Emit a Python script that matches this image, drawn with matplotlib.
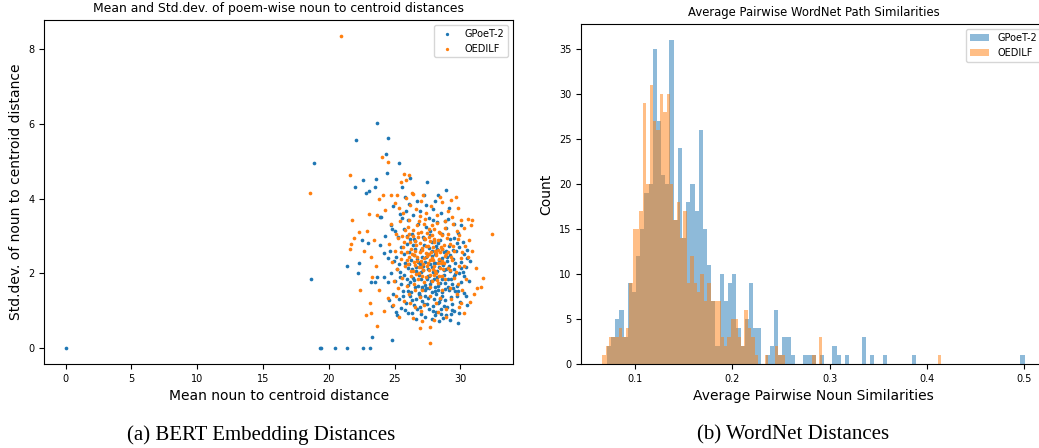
import numpy as np
import matplotlib
matplotlib.use("Agg")
import matplotlib.pyplot as plt

# --- (a) per-poem mean / std.dev. of noun-to-centroid distances ---
gpoet_mean = [
    0.0, 19.3, 19.4, 20.5, 21.4, 22.6, 23.15, 23.25, 24.82, 18.68,
    18.85, 22.04, 23.68, 24.49, 24.37, 25.3, 24.4, 22.6, 23.6, 21.36,
    22.2, 22.3, 21.97, 22.85, 23.05, 23.5, 22.5, 23.0, 23.2, 23.55,
    23.65, 27.47, 28.3, 28.9, 29.8, 30.4, 30.5, 24.0, 23.9, 24.6,
    24.8, 25.1, 25.2, 26.0, 26.6, 27.3, 28.4, 28.9, 29.3, 28.1,
    25.6, 25.8, 26.2, 24.3, 24.2, 24.5, 24.9, 25.4, 23.9, 24.7,
    26.1, 26.73, 27.2, 27.94, 28.5, 29.12, 26.38, 27.61, 25.87, 28.83,
    29.52, 26.91, 27.42, 25.53, 28.07,
    25.0, 25.72, 26.33, 26.81, 27.14, 27.69, 28.22, 28.61, 29.24, 29.83,
    30.21, 25.28, 26.04, 27.37, 28.02, 28.92, 29.48, 26.57, 24.83, 27.91,
    30.04, 26.19, 28.43, 25.93, 29.03,
    24.62, 25.11, 25.52, 25.79, 26.12, 26.41, 26.68, 27.03, 27.31, 27.58,
    27.87, 28.19, 28.52, 28.78, 29.13, 29.41, 29.68, 30.02, 30.31, 30.73,
    25.34, 25.98, 26.94, 27.52, 28.04, 28.27, 28.71, 29.18, 29.88, 26.47,
    27.23, 27.81, 28.63, 29.57, 24.93, 30.52, 27.09, 28.11, 26.28, 29.02,
    24.71, 25.03, 25.19, 25.48, 25.71, 26.02, 26.17, 26.43, 26.62, 26.79,
    27.01, 27.18, 27.29, 27.53, 27.62, 27.77, 27.93, 28.08, 28.21, 28.38,
    28.49, 28.72, 28.81, 29.04, 29.21, 29.33, 29.49, 29.71, 29.92, 30.08,
    30.29, 30.62, 27.39, 27.71, 28.01, 28.33, 26.88, 26.52, 25.91, 25.38,
    28.93, 29.42, 30.03, 24.51, 24.18, 27.12, 28.58, 26.31, 27.83, 29.63,
    24.88, 25.31, 25.62, 25.88, 26.21, 26.49, 26.82, 27.08, 27.33, 27.57,
    27.91, 28.13, 28.41, 28.57, 28.87, 29.11, 29.39, 29.72, 30.01, 30.28,
    26.03, 26.97, 27.98, 29.02, 27.48, 28.29, 26.61, 29.61, 25.47, 28.79,
    27.81, 30.47, 26.92, 29.28, 27.21,
    25.82, 26.29, 27.01, 27.63, 28.18, 28.52, 28.68, 29.49, 29.91, 27.88,
    26.72, 29.19,
    26.13, 26.47, 26.78, 27.02, 27.38, 27.61, 27.97, 28.23, 28.58, 28.83,
    29.16, 29.43, 26.27, 26.52, 26.88, 27.13, 27.46, 27.73, 28.09, 28.36,
    28.62, 28.98, 29.27, 29.53, 29.81, 27.22, 27.88, 28.42, 26.36, 29.04,
    27.57, 28.14, 28.77, 27.06, 26.63, 25.74, 25.43, 30.17, 30.42, 29.72,
    25.66, 26.04, 27.33, 28.27, 29.37, 27.94, 28.53, 26.44, 27.68, 28.93,
]
gpoet_std = [
    0.0, 0.0, 0.0, 0.0, 0.0, 0.0, 0.0, 0.31, 0.22, 1.86,
    4.95, 5.57, 6.01, 5.62, 5.2, 4.95, 4.67, 4.5, 4.52, 2.2,
    2.02, 2.28, 4.3, 4.15, 4.2, 4.32, 2.88, 2.8, 1.77, 1.78,
    1.9, 4.45, 4.1, 4.22, 0.68, 1.4, 2.4, 3.5, 2.75, 1.3,
    1.12, 0.98, 0.88, 0.95, 0.78, 0.85, 0.72, 0.9, 0.92, 0.88,
    4.32, 4.05, 4.55, 3.0, 2.55, 2.4, 3.8, 3.6, 3.5, 3.3,
    3.86, 3.94, 4.09, 3.71, 3.62, 3.74, 3.56, 3.49, 3.68, 3.41,
    3.31, 3.66, 3.84, 3.47, 3.93,
    3.12, 3.19, 3.06, 3.31, 2.96, 3.14, 3.36, 3.04, 2.91, 3.09,
    2.84, 2.97, 3.42, 3.24, 2.86, 3.21, 2.94, 2.87, 3.18, 3.44,
    3.29, 2.92, 2.89, 3.01, 3.46,
    2.61, 2.44, 2.71, 2.29, 2.56, 2.76, 2.38, 2.62, 2.31, 2.69,
    2.46, 2.64, 2.36, 2.57, 2.74, 2.39, 2.59, 2.31, 2.52, 2.34,
    2.24, 2.79, 2.26, 2.51, 2.29, 2.81, 2.23, 2.49, 2.71, 2.48,
    2.77, 2.61, 2.66, 2.27, 2.32, 2.63, 2.43, 2.52, 2.36, 2.33,
    2.01, 1.79, 2.12, 1.71, 1.96, 2.14, 1.76, 1.89, 2.06, 1.66,
    1.86, 2.09, 1.69, 1.94, 1.61, 1.81, 2.04, 1.64, 1.91, 2.16,
    1.74, 1.96, 1.59, 1.84, 2.06, 1.71, 1.92, 1.66, 2.01, 1.76,
    1.94, 1.79, 1.62, 1.73, 1.86, 1.67, 1.97, 1.64, 1.84, 2.04,
    2.11, 1.61, 2.14, 1.76, 1.91, 1.58, 1.86, 2.11, 2.16, 1.99,
    1.46, 1.31, 1.54, 1.21, 1.41, 1.16, 1.49, 1.26, 1.56, 1.34,
    1.14, 1.46, 1.24, 1.51, 1.29, 1.56, 1.19, 1.41, 1.24, 1.49,
    1.52, 1.39, 1.31, 1.11, 1.19, 1.57, 1.31, 1.54, 1.09, 1.12,
    1.51, 1.16, 1.11, 1.36, 1.18,
    1.02, 0.94, 0.91, 1.06, 0.96, 1.04, 0.82, 1.01, 0.94, 0.79,
    1.06, 0.77,
    2.24, 1.83, 2.31, 2.05, 2.44, 1.94, 2.29, 2.06, 2.41, 1.74,
    2.19, 2.63, 1.51, 2.66, 1.44, 2.2, 1.86, 2.25, 1.53, 2.35,
    1.41, 2.44, 1.84, 2.13, 1.52, 2.93, 2.83, 1.33, 1.29, 1.63,
    2.11, 2.74, 2.09, 1.63, 2.16, 2.53, 1.91, 2.04, 2.16, 2.81,
    1.4, 1.69, 1.39, 1.21, 1.03, 1.01, 0.93, 2.91, 3.03, 2.61,
]
oedilf_mean = [
    20.9, 18.56, 21.64, 21.8, 21.6, 21.7, 21.95, 22.3, 22.4, 22.8,
    23.2, 23.66, 23.1, 24.04, 24.5, 25.7, 26.1, 27.66, 26.9, 27.7,
    27.1, 32.4, 31.73, 31.6, 31.3, 31.0, 30.6, 30.85, 30.8, 29.8,
    29.7, 22.9, 23.05, 23.4, 23.2, 22.7, 23.6, 23.3, 23.8, 24.2,
    24.5, 24.1, 24.7, 25.2, 25.5, 25.9, 26.3, 23.8, 23.7, 24.3,
    30.9, 30.7, 30.3, 29.9, 28.9, 28.0, 26.4, 25.3, 24.9, 31.2,
    25.31, 25.84, 26.17, 26.62, 27.03, 27.41, 27.79, 28.22, 28.58, 29.04,
    29.37, 26.93, 25.61, 28.43, 27.19, 29.31, 26.38, 25.02,
    24.72, 25.13, 25.39, 25.82, 26.08, 26.43, 26.71, 26.98, 27.32, 27.63,
    27.88, 28.21, 28.49, 28.81, 29.07, 29.42, 29.71, 30.02, 30.28, 26.01,
    26.87, 27.82, 28.62, 25.58, 29.91,
    24.61, 25.04, 25.27, 25.63, 25.91, 26.18, 26.52, 26.79, 27.12, 27.38,
    27.71, 28.04, 28.32, 28.59, 28.91, 29.18, 29.53, 29.79, 30.12, 30.38,
    25.97, 26.63, 27.23, 27.92, 28.47, 29.01, 25.49, 30.68, 27.52, 28.18,
    26.27, 28.78,
    24.83, 25.17, 25.52, 25.81, 26.13, 26.38, 26.69, 27.04, 27.27, 27.62,
    27.93, 28.17, 28.53, 28.82, 29.08, 29.38, 29.69, 30.03, 30.27, 30.57,
    26.02, 26.88, 27.47, 28.01, 28.68, 29.27, 27.17, 28.41, 26.51, 29.87,
    24.92, 25.28, 25.59, 25.92, 26.22, 26.48, 26.81, 27.09, 27.37, 27.72,
    28.03, 28.28, 28.62, 28.87, 29.23, 29.48, 29.83, 30.09, 30.42, 27.88,
    26.57, 28.38, 27.24,
    25.12, 25.68, 26.07, 26.53, 26.91, 27.27, 27.68, 28.12, 28.47, 28.94,
    29.31, 29.72, 30.08, 27.01, 28.33, 26.19,
    26.31, 26.58, 26.83, 27.06, 27.29, 27.52, 27.78, 28.03, 28.27, 28.51,
    26.42, 26.71, 26.97, 27.18, 27.44, 27.67, 27.91, 28.14, 28.39, 28.63,
    26.22, 26.54, 26.77, 27.03, 27.36, 27.58, 27.83, 28.09, 28.31, 28.58,
    27.12, 27.71, 28.21, 26.92, 27.49, 28.02, 26.63, 28.77, 29.03, 29.24,
    25.94, 25.72, 26.12, 29.47, 28.84, 27.26, 27.97, 28.45, 26.48, 27.61,
]
oedilf_std = [
    8.35, 4.14, 4.64, 3.43, 2.65, 2.78, 2.95, 3.1, 1.55, 0.89,
    0.95, 0.6, 1.2, 5.12, 4.98, 4.65, 4.62, 0.15, 0.55, 0.57,
    0.72, 3.04, 1.88, 1.63, 1.6, 1.45, 3.45, 3.42, 3.3, 3.75,
    4.05, 3.12, 3.6, 2.9, 2.45, 2.6, 2.2, 1.9, 1.55, 1.0,
    1.35, 4.1, 4.1, 4.1, 4.45, 4.5, 4.15, 4.0, 3.55, 3.7,
    2.6, 1.25, 0.95, 1.1, 0.85, 0.75, 0.8, 0.85, 1.15, 2.15,
    3.76, 4.01, 3.84, 3.71, 3.94, 3.61, 3.79, 3.56, 3.91, 3.66,
    3.51, 3.54, 3.61, 4.04, 4.09, 3.96, 4.11, 3.89,
    3.31, 3.06, 3.39, 3.16, 3.44, 3.01, 3.29, 3.11, 3.46, 3.19,
    3.02, 3.34, 3.09, 3.41, 3.04, 3.31, 3.14, 3.44, 3.21, 3.24,
    3.39, 3.29, 3.02, 3.01, 3.03,
    2.79, 2.61, 2.94, 2.71, 2.56, 2.84, 2.61, 2.96, 2.69, 2.54,
    2.86, 2.61, 2.89, 2.64, 2.51, 2.79, 2.61, 2.91, 2.56, 2.74,
    2.96, 2.76, 2.94, 2.71, 2.56, 2.94, 2.56, 2.89, 2.74, 2.54,
    2.66, 2.76,
    2.31, 2.11, 2.39, 2.21, 2.44, 2.06, 2.34, 2.16, 2.41, 2.09,
    2.36, 2.01, 2.29, 2.46, 2.14, 2.36, 2.04, 2.41, 2.19, 2.44,
    2.26, 2.01, 2.46, 2.21, 2.11, 2.44, 2.26, 2.39, 2.31, 2.19,
    1.81, 1.61, 1.89, 1.66, 1.94, 1.71, 1.86, 1.56, 1.91, 1.64,
    1.96, 1.74, 1.56, 1.84, 1.61, 1.89, 1.71, 1.56, 1.86, 1.79,
    1.56, 1.94, 1.76,
    1.41, 1.26, 1.44, 1.11, 1.36, 1.16, 1.39, 1.21, 1.34, 1.06,
    1.31, 1.44, 1.21, 1.01, 0.96, 1.21,
    2.52, 2.87, 2.18, 2.63, 2.91, 2.27, 2.58, 2.83, 2.29, 2.71,
    3.17, 2.43, 2.82, 2.09, 3.07, 2.37, 2.13, 2.49, 3.11, 2.32,
    2.07, 2.23, 3.08, 2.34, 2.72, 2.98, 2.42, 2.07, 2.63, 1.93,
    1.92, 1.97, 1.83, 2.56, 2.19, 3.18, 1.98, 2.27, 2.57, 2.08,
    2.37, 2.84, 3.06, 2.73, 3.21, 3.33, 2.93, 2.14, 2.48, 2.53,
]

# --- (b) histogram bin counts (100 bins each, over each series' own range) ---
gpoet_range = (0.0709, 0.5007)
gpoet_counts = [
    2, 3, 5, 6, 3, 9, 8, 12, 15, 19,
    20, 35, 27, 21, 20, 36, 16, 24, 14, 18,
    20, 17, 26, 15, 11, 7, 2, 10, 7, 9,
    10, 4, 2, 5, 9, 4, 4, 0, 1, 2,
    6, 1, 3, 3, 1, 0, 0, 1, 1, 1,
    0, 1, 0, 0, 2, 1, 0, 1, 0, 0,
    0, 3, 0, 1, 0, 0, 1, 0, 0, 0,
    0, 0, 0, 1, 0, 0, 0, 0, 0, 0,
    0, 0, 0, 0, 0, 0, 0, 0, 0, 0,
    0, 0, 0, 0, 0, 0, 0, 0, 0, 1,
]
oedilf_range = (0.0661, 0.4146)
oedilf_counts = [
    1, 2, 3, 3, 3, 4, 3, 4, 9, 15,
    15, 17, 29, 20, 31, 27, 26, 30, 28, 30,
    20, 16, 18, 14, 17, 9, 12, 9, 8, 10,
    7, 9, 7, 7, 7, 3, 2, 3, 5, 5,
    3, 2, 6, 4, 3, 1, 0, 0, 1, 0,
    0, 2, 1, 1, 0, 0, 0, 0, 0, 0,
    0, 0, 1, 0, 3, 0, 0, 0, 0, 0,
    0, 0, 0, 0, 0, 0, 0, 0, 0, 0,
    0, 0, 0, 0, 0, 0, 0, 0, 0, 0,
    0, 0, 0, 0, 0, 0, 0, 0, 0, 1,
]

series_labels = ["GPoeT-2", "OEDILF"]

plt.rcParams["xtick.labelsize"] = 7
plt.rcParams["ytick.labelsize"] = 7

fig = plt.figure(figsize=(10.39, 4.48), dpi=100)

# left panel: scatter
ax1 = fig.add_axes([0.0426, 0.1875, 0.4514, 0.768])
ax1.scatter(gpoet_mean, gpoet_std, s=7, linewidths=0, label=series_labels[0])
ax1.scatter(oedilf_mean, oedilf_std, s=7, linewidths=0, label=series_labels[1])
ax1.set_title("Mean and Std.dev. of poem-wise noun to centroid distances", fontsize=8.9)
ax1.set_xlabel("Mean noun to centroid distance", fontsize=10)
ax1.set_ylabel("Std.dev. of noun to centroid distance", fontsize=10)
ax1.legend(loc="upper right", fontsize=7, markerscale=0.9)

# right panel: histograms
ax2 = fig.add_axes([0.5592, 0.1875, 0.4473, 0.7583])
g_edges = np.linspace(gpoet_range[0], gpoet_range[1], len(gpoet_counts) + 1)
o_edges = np.linspace(oedilf_range[0], oedilf_range[1], len(oedilf_counts) + 1)
ax2.hist(g_edges[:-1], bins=g_edges, weights=gpoet_counts, alpha=0.5, label=series_labels[0])
ax2.hist(o_edges[:-1], bins=o_edges, weights=oedilf_counts, alpha=0.5, label=series_labels[1])
ax2.set_title("Average Pairwise WordNet Path Similarities", fontsize=8.4)
ax2.set_xlabel("Average Pairwise Noun Similarities", fontsize=10)
ax2.set_ylabel("Count", fontsize=10)
ax2.legend(loc="upper right", fontsize=7)

# sub-figure captions
fig.text(0.251, 0.029, "(a) BERT Embedding Distances", ha="center", va="center",
         family="Liberation Serif", fontsize=15)
fig.text(0.763, 0.029, "(b) WordNet Distances", ha="center", va="center",
         family="Liberation Serif", fontsize=15)

fig.savefig("out.png", dpi=100)
